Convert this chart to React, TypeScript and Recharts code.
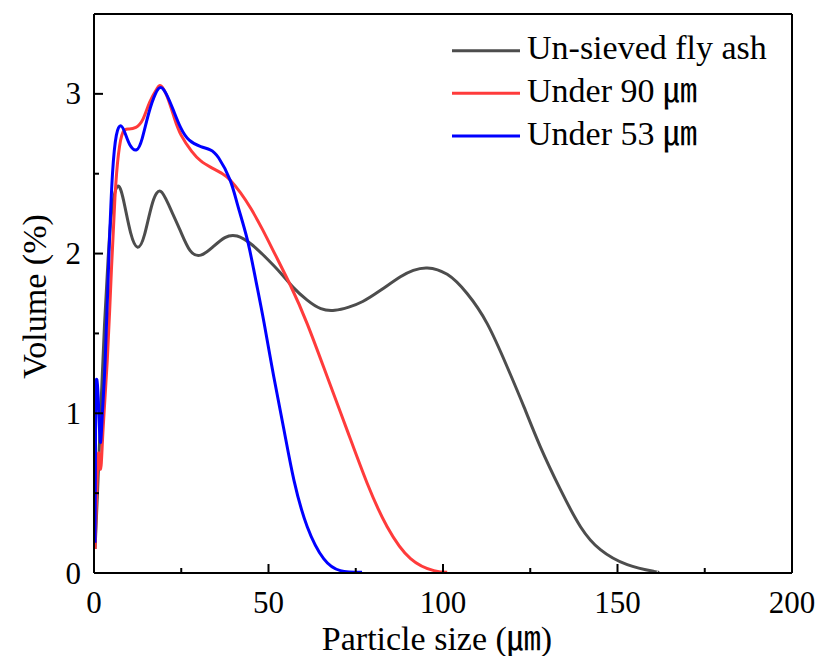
import React from 'react';
import { LineChart, Line, XAxis, YAxis, ReferenceLine, Legend, Label } from 'recharts';

const unsieved: { x: number; y: number }[] = [
  { x: 0.3, y: 0.15 }, { x: 1, y: 0.5 }, { x: 2, y: 1.05 }, { x: 3, y: 1.55 }, { x: 4, y: 1.95 },
  { x: 5, y: 2.25 }, { x: 6.7, y: 2.42 }, { x: 8.5, y: 2.33 }, { x: 10.5, y: 2.13 }, { x: 12.5, y: 2.04 },
  { x: 14.5, y: 2.12 }, { x: 16.8, y: 2.32 }, { x: 19.1, y: 2.39 }, { x: 21.5, y: 2.3 }, { x: 24.6, y: 2.15 },
  { x: 27.5, y: 2.02 }, { x: 30.6, y: 1.99 }, { x: 34, y: 2.04 }, { x: 37.5, y: 2.1 }, { x: 41, y: 2.11 },
  { x: 45, y: 2.06 }, { x: 49, y: 1.98 }, { x: 53.4, y: 1.88 }, { x: 57, y: 1.79 }, { x: 61, y: 1.71 },
  { x: 65, y: 1.655 }, { x: 69, y: 1.645 }, { x: 73, y: 1.665 }, { x: 77, y: 1.70 }, { x: 82.1, y: 1.77 },
  { x: 87.8, y: 1.855 }, { x: 91.5, y: 1.895 }, { x: 95.5, y: 1.91 }, { x: 101.2, y: 1.87 }, { x: 106.9, y: 1.75 },
  { x: 112.7, y: 1.56 }, { x: 118.4, y: 1.29 }, { x: 123.2, y: 1.04 }, { x: 127.9, y: 0.79 }, { x: 133.7, y: 0.52 },
  { x: 139.4, y: 0.29 }, { x: 145.1, y: 0.146 }, { x: 152.8, y: 0.052 }, { x: 160.4, y: 0.01 }, { x: 161.5, y: 0.005 },
];

const under90: { x: number; y: number }[] = [
  { x: 0.3, y: 0.15 }, { x: 0.7, y: 0.45 }, { x: 1.3, y: 0.75 }, { x: 1.9, y: 0.65 }, { x: 2.6, y: 0.9 },
  { x: 3.8, y: 1.33 }, { x: 5, y: 1.9 }, { x: 6, y: 2.35 }, { x: 7, y: 2.62 }, { x: 8.3, y: 2.76 },
  { x: 10, y: 2.78 }, { x: 12, y: 2.79 }, { x: 14, y: 2.84 }, { x: 16, y: 2.95 }, { x: 18, y: 3.03 },
  { x: 19.2, y: 3.05 }, { x: 21, y: 2.98 }, { x: 23, y: 2.85 }, { x: 25, y: 2.74 }, { x: 28, y: 2.64 },
  { x: 30.6, y: 2.58 }, { x: 33.5, y: 2.54 }, { x: 36.8, y: 2.5 }, { x: 39, y: 2.46 }, { x: 42, y: 2.38 },
  { x: 45, y: 2.28 }, { x: 48.3, y: 2.15 }, { x: 52, y: 1.99 }, { x: 56.3, y: 1.8 }, { x: 61.1, y: 1.56 },
  { x: 66.8, y: 1.23 }, { x: 72.6, y: 0.89 }, { x: 78.3, y: 0.56 }, { x: 84, y: 0.29 }, { x: 90.7, y: 0.09 },
  { x: 97.4, y: 0.015 }, { x: 101.2, y: 0.005 },
];

const under53: { x: number; y: number }[] = [
  { x: 0.3, y: 0.19 }, { x: 0.5, y: 1.12 }, { x: 1.2, y: 1.1 }, { x: 1.8, y: 0.82 }, { x: 2.4, y: 1.0 },
  { x: 3.2, y: 1.33 }, { x: 4.3, y: 2.0 }, { x: 5.3, y: 2.5 }, { x: 6.4, y: 2.74 }, { x: 7.6, y: 2.8 },
  { x: 8.8, y: 2.76 }, { x: 10.3, y: 2.68 }, { x: 12.2, y: 2.65 }, { x: 13.8, y: 2.72 }, { x: 15.7, y: 2.88 },
  { x: 17.6, y: 3.0 }, { x: 19.1, y: 3.04 }, { x: 20.7, y: 3.0 }, { x: 22.7, y: 2.9 }, { x: 24.8, y: 2.79 },
  { x: 27.3, y: 2.71 }, { x: 30.6, y: 2.67 }, { x: 33.3, y: 2.65 }, { x: 35.7, y: 2.6 }, { x: 39, y: 2.46 },
  { x: 41.2, y: 2.3 }, { x: 43.9, y: 2.09 }, { x: 46.3, y: 1.84 }, { x: 48.7, y: 1.57 }, { x: 51.5, y: 1.23 },
  { x: 54.4, y: 0.9 }, { x: 57.3, y: 0.58 }, { x: 61.1, y: 0.29 }, { x: 65.8, y: 0.09 }, { x: 70.6, y: 0.015 },
  { x: 76.8, y: 0.005 },
];

const xTicks = [0, 25, 50, 75, 100, 125, 150, 175, 200];
const yTicks = [0, 0.5, 1, 1.5, 2, 2.5, 3];
const seriesNames = ['Un-sieved fly ash', 'Under 90 \u339B', 'Under 53 \u339B'];
const seriesColors = ['#4d4d4d', '#ff3b3b', '#0000ff'];

const FONT = "'Liberation Serif', 'Times New Roman', 'Noto Sans CJK SC', serif";

const YTick = (props: any) => {
  const { x, y, payload } = props;
  const v = payload.value as number;
  const major = Number.isInteger(v);
  return (
    <g>
      <line x1={x} x2={x + (major ? 9 : 5)} y1={y} y2={y} stroke="#000" strokeWidth={2} />
      {major && (
        <text x={x - 13} y={y + 10.5} textAnchor="end" fontSize={31} fontFamily={FONT} fill="#000">
          {v}
        </text>
      )}
    </g>
  );
};

const XTick = (props: any) => {
  const { x, y, payload } = props;
  const v = payload.value as number;
  const major = v % 50 === 0;
  return (
    <g>
      <line x1={x} x2={x} y1={y} y2={y - (major ? 9 : 5)} stroke="#000" strokeWidth={2} />
      {major && (
        <text x={x} y={y + 40} textAnchor="middle" fontSize={31} fontFamily={FONT} fill="#000">
          {v}
        </text>
      )}
    </g>
  );
};

const LegendContent = () => {
  return (
    <svg width={820} height={160} style={{ display: 'block' }}>
      {seriesNames.map((name, i) => (
        <g key={i}>
          <line x1={452} x2={520} y1={50.7 + i * 42.65} y2={50.7 + i * 42.65} stroke={seriesColors[i]} strokeWidth={3} />
          <text x={527} y={59.3 + i * 42.65} fontSize={34} fontFamily={FONT} fill="#000">
            {name}
          </text>
        </g>
      ))}
    </svg>
  );
};

export default function App() {
  return (
    <div style={{ position: 'absolute', left: 0, top: 0, width: 820, height: 656, background: '#fff' }}>
      <LineChart width={820} height={656} margin={{ top: 14, right: 28, left: 0, bottom: 0 }}>
        <XAxis
          type="number"
          dataKey="x"
          domain={[0, 200]}
          ticks={xTicks}
          interval={0}
          tickSize={0}
          tickMargin={0}
          tickLine={false}
          tick={<XTick />}
          axisLine={{ stroke: '#000', strokeWidth: 2 }}
          height={83}
          allowDataOverflow
        >
          <Label
            content={(p: any) => {
              const vb = p.viewBox || { x: 94, y: 573, width: 698, height: 83 };
              return (
                <text x={vb.x + vb.width / 2 - 6} y={650} textAnchor="middle" fontSize={34} fontFamily={FONT} fill="#000">
                  Particle size ({'\u339B'})
                </text>
              );
            }}
          />
        </XAxis>
        <YAxis
          type="number"
          domain={[0, 3.5]}
          ticks={yTicks}
          interval={0}
          tickSize={0}
          tickMargin={0}
          tickLine={false}
          tick={<YTick />}
          axisLine={{ stroke: '#000', strokeWidth: 2 }}
          width={94}
          allowDataOverflow
        >
          <Label
            content={(p: any) => {
              const vb = p.viewBox || { x: 0, y: 14, width: 94, height: 559 };
              const cy = vb.y + vb.height / 2 + 3;
              return (
                <text
                  x={0}
                  y={0}
                  transform={`translate(46, ${cy}) rotate(-90)`}
                  textAnchor="middle"
                  fontSize={34}
                  fontFamily={FONT}
                  fill="#000"
                >
                  Volume (%)
                </text>
              );
            }}
          />
        </YAxis>
        <ReferenceLine y={3.5} stroke="#000" strokeWidth={2} />
        <ReferenceLine x={200} stroke="#000" strokeWidth={2} />
        <Legend
          layout="vertical"
          align="center"
          verticalAlign="middle"
          wrapperStyle={{ left: 0, top: 0, width: 820, height: 160, pointerEvents: 'none' }}
          content={<LegendContent />}
        />
        <Line data={unsieved} dataKey="y" name={seriesNames[0]} type="natural" stroke={seriesColors[0]} strokeWidth={3} dot={false} isAnimationActive={false} />
        <Line data={under90} dataKey="y" name={seriesNames[1]} type="natural" stroke={seriesColors[1]} strokeWidth={3} dot={false} isAnimationActive={false} />
        <Line data={under53} dataKey="y" name={seriesNames[2]} type="natural" stroke={seriesColors[2]} strokeWidth={3} dot={false} isAnimationActive={false} />
      </LineChart>
    </div>
  );
}
